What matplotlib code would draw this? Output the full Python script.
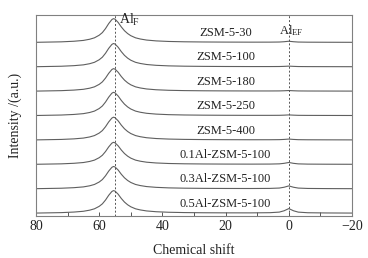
import matplotlib
matplotlib.use("Agg")
import matplotlib.pyplot as plt
from matplotlib.ticker import FixedLocator, FixedFormatter

plt.rcParams['font.family'] = ['Liberation Serif', 'DejaVu Serif']
plt.rcParams['mathtext.fontset'] = 'custom'
plt.rcParams['mathtext.rm'] = 'Liberation Serif'
plt.rcParams['mathtext.it'] = 'Liberation Serif:italic'

# Samples, top to bottom
samples = ["ZSM-5-30", "ZSM-5-100", "ZSM-5-180", "ZSM-5-250", "ZSM-5-400",
           "0.1Al-ZSM-5-100", "0.3Al-ZSM-5-100", "0.5Al-ZSM-5-100"]

# chemical shift grid (ppm)
shift = [80, 76, 72, 68, 65, 63, 61.5, 60, 59, 58, 57, 56, 55.5, 55, 54, 53, 52, 51, 50,
         48.5, 47, 45, 42, 38, 33, 27, 20, 12, 6, 3, 1.5, 0, -1.5, -3, -6, -12, -20]

# normalised framework Al (Al_F) profile
alf_profile = [0.0, 0.01, 0.02, 0.045, 0.08, 0.13, 0.19, 0.30, 0.41, 0.58, 0.79, 0.96, 1.0,
               0.98, 0.84, 0.65, 0.49, 0.37, 0.28, 0.19, 0.14, 0.095, 0.06, 0.036, 0.022,
               0.014, 0.009, 0.006, 0.005, 0.004, 0.004, 0.004, 0.004, 0.003, 0.003, 0.002, 0.0]
# normalised extra-framework Al (Al_EF) profile
alef_profile = [0, 0, 0, 0, 0, 0, 0, 0, 0, 0, 0, 0, 0, 0, 0, 0, 0, 0, 0, 0, 0, 0, 0, 0, 0,
                0, 0.005, 0.015, 0.06, 0.2, 0.5, 1.0, 0.5, 0.2, 0.06, 0.015, 0.0]

# peak heights (fraction of trace spacing)
alf_height = [0.97, 0.95, 0.92, 0.95, 0.93, 0.90, 0.91, 0.92]
alef_height = [0.04, 0.02, 0.02, 0.02, 0.03, 0.07, 0.11, 0.18]

xticks_major = [80, 60, 40, 20, 0, -20]
xtick_labels = ["80", "60", "40", "20", "0", "\u221220"]
xticks_minor = [70, 50, 30, 10, -10]

line_col = "#5f5f5f"
fig = plt.figure(figsize=(3.68, 2.58), dpi=100)
ax = fig.add_axes([0.0978, 0.1628, 0.8587, 0.7791])

n = len(samples)
for i, name in enumerate(samples):
    off = 0.12 + (n - 1 - i) * 1.0
    y = [off + alf_height[i] * a + alef_height[i] * b for a, b in zip(alf_profile, alef_profile)]
    ax.plot(shift, y, color=line_col, lw=0.8)
    ax.text(20, off + 0.38, name, ha="center", va="center", fontsize=9, color="#222222")

ax.axvline(55, color="#555555", lw=0.7, ls=(0, (2, 2)))
ax.axvline(0, color="#555555", lw=0.7, ls=(0, (2, 2)))
ax.text(53.6, 8.03, r"Al$_\mathrm{F}$", fontsize=10, ha="left", va="center", color="#222222")
ax.text(3.0, 7.62, r"Al$_\mathrm{EF}$", fontsize=9, ha="left", va="center", color="#222222")

ax.set_xlim(80, -20)
ax.set_ylim(0, 8.24)
ax.xaxis.set_major_locator(FixedLocator(xticks_major))
ax.xaxis.set_major_formatter(FixedFormatter(xtick_labels))
ax.xaxis.set_minor_locator(FixedLocator(xticks_minor))
ax.tick_params(axis="x", which="both", direction="in", length=3, width=0.7,
               color="#555555", labelsize=10, pad=3, labelcolor="#222222")
ax.set_yticks([])
for s in ax.spines.values():
    s.set_color("#808080")
    s.set_linewidth(0.8)
ax.set_xlabel("Chemical shift", fontsize=10, color="#222222", labelpad=8)
ax.set_ylabel("Intensity /(a.u.)", fontsize=10, color="#222222", labelpad=10)

fig.savefig("out.png", dpi=100)
